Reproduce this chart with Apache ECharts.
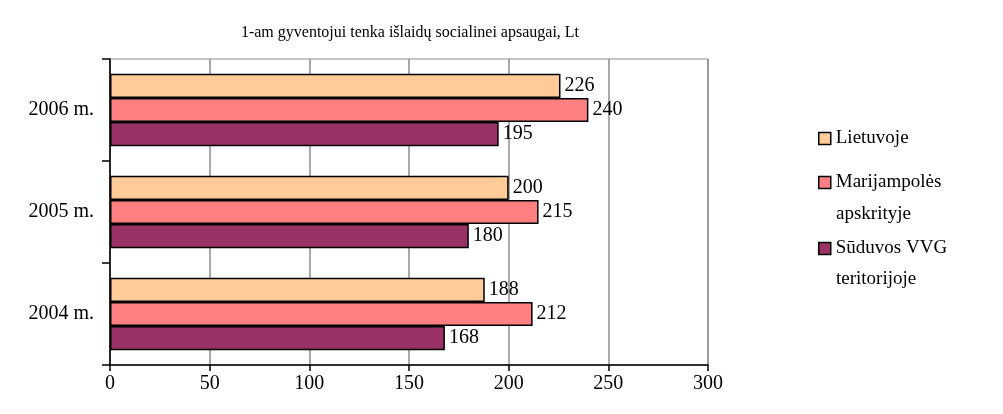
<!DOCTYPE html>
<html>
<head>
<meta charset="utf-8">
<script src="https://cdn.jsdelivr.net/npm/echarts@6/dist/echarts.min.js"></script>
<style>
html, body { margin: 0; padding: 0; background: #fff; }
#chart { width: 1003px; height: 414px; }
</style>
</head>
<body>
<div id="chart"></div>
<script>
const years = ['2004 m.', '2005 m.', '2006 m.']
const lietuvoje = [188, 200, 226]
const marijampoles = [212, 215, 240]
const suduvos = [168, 180, 195]
const xTicks = [0, 50, 100, 150, 200, 250, 300]

const font = 'Liberation Serif'
const myChart = echarts.init(document.getElementById('chart'))

function bar (name, color, data) {
  return {
    name: name,
    type: 'bar',
    data: data,
    barGap: '0%',
    barCategoryGap: '29%',
    itemStyle: { color: color, borderColor: '#000', borderWidth: 1.5 },
    label: {
      show: true,
      position: 'right',
      distance: 4,
      color: '#000',
      fontFamily: font,
      fontSize: 20
    }
  }
}

// one legend per entry; the second line of long names is a plain text below
function legendItem (name, top) {
  return {
    left: 818,
    top: top,
    padding: 0,
    icon: 'rect',
    itemWidth: 12,
    itemHeight: 12,
    itemStyle: { borderColor: '#000', borderWidth: 1.5 },
    data: [name],
    textStyle: { fontFamily: font, fontSize: 19, color: '#000' },
    formatter: function (n) { return n.split(' ').slice(0, n === 'Lietuvoje' ? 1 : n.startsWith('S') ? 2 : 1).join(' ') }
  }
}

function secondLine (text, y) {
  return {
    type: 'text',
    left: 836,
    top: y - 11,
    style: { text: text, fontFamily: font, fontSize: 19, fill: '#000' }
  }
}

myChart.setOption({
  animation: false,
  title: {
    text: '1-am gyventojui tenka išlaidų socialinei apsaugai, Lt',
    left: 405,
    textAlign: 'center',
    top: 20,
    textStyle: { fontFamily: font, fontSize: 16, fontWeight: 'normal', color: '#000' }
  },
  legend: [
    legendItem('Lietuvoje', 129),
    legendItem('Marijampolės apskrityje', 173),
    legendItem('Sūduvos VVG teritorijoje', 239)
  ],
  graphic: [
    secondLine('apskrityje', 216),
    secondLine('teritorijoje', 281)
  ],
  grid: {
    left: 110,
    right: 295,
    top: 59,
    bottom: 49,
    show: true,
    borderColor: '#8c8c8c',
    borderWidth: 1
  },
  xAxis: {
    type: 'value',
    min: xTicks[0],
    max: xTicks[xTicks.length - 1],
    interval: 50,
    axisLine: { show: true, lineStyle: { color: '#000', width: 1.5 } },
    axisTick: { show: true, length: 6, lineStyle: { color: '#000', width: 1.5 } },
    splitLine: { show: true, lineStyle: { color: '#8c8c8c', width: 1.5 } },
    axisLabel: { margin: 9, fontFamily: font, fontSize: 20, color: '#000' }
  },
  yAxis: {
    type: 'category',
    data: years,
    axisLine: { show: true, lineStyle: { color: '#000', width: 1.5 } },
    axisTick: { show: true, length: 8, lineStyle: { color: '#000', width: 1.5 } },
    axisLabel: { margin: 16, fontFamily: font, fontSize: 20, color: '#000' }
  },
  series: [
    bar('Lietuvoje', '#FFCC99', lietuvoje),
    bar('Marijampolės apskrityje', '#FF8080', marijampoles),
    bar('Sūduvos VVG teritorijoje', '#993366', suduvos)
  ]
})
</script>
</body>
</html>
